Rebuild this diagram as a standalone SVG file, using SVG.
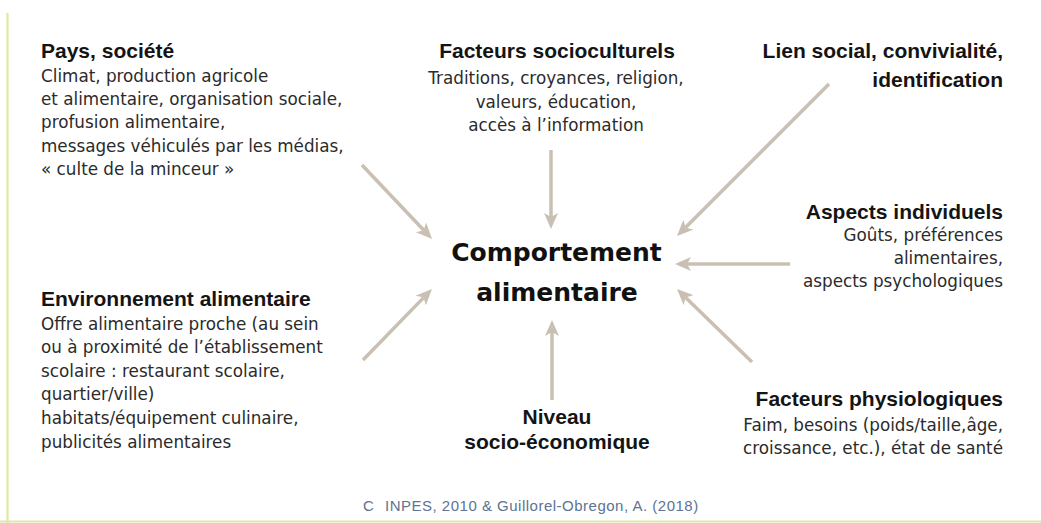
<svg xmlns="http://www.w3.org/2000/svg" width="1041" height="523" viewBox="0 0 1041 523">
  <style>
    .title { font-family: "Liberation Sans", Arial, sans-serif; font-weight: bold; font-size: 21px; fill: #141414; }
    .body { font-family: "DejaVu Sans", Verdana, sans-serif; font-size: 16.8px; fill: #2b2b2b; }
    .core { font-family: "DejaVu Sans", Verdana, sans-serif; font-weight: bold; font-size: 25px; fill: #111111; text-anchor: middle; }
    .credit { font-family: "Liberation Sans", Arial, sans-serif; font-size: 15px; letter-spacing: 0.5px; fill: #5d7391; }
    .link { stroke: #c9c0b3; stroke-width: 3.5; fill: none; marker-end: url(#head); }
    .frame { stroke: #dde9a6; stroke-width: 2.2; fill: none; }
  </style>
  <defs>
    <marker id="head" viewBox="0 0 16 14" refX="4" refY="7" markerWidth="16" markerHeight="14" orient="auto" markerUnits="userSpaceOnUse">
      <path d="M0,0 L16,7 L0,14 L4,7 z" fill="#c9c0b3"/>
    </marker>
  </defs>

  <rect width="1041" height="523" fill="#ffffff"/>

  <!-- page frame: left rule and bottom rule -->
  <g id="frame">
    <line class="frame" x1="7.5" y1="13" x2="7.5" y2="523"/>
    <line class="frame" x1="0" y1="521.5" x2="1041" y2="521.5"/>
  </g>

  <!-- connectors pointing at the central behaviour -->
  <g id="connectors">
    <line class="link" x1="362" y1="165" x2="423.8" y2="230.3"/>
    <line class="link" x1="551" y1="150" x2="551" y2="217"/>
    <line class="link" x1="829" y1="84" x2="685.5" y2="227.5"/>
    <line class="link" x1="790" y1="264" x2="687" y2="264"/>
    <line class="link" x1="752" y1="362" x2="685.6" y2="297.4"/>
    <line class="link" x1="552" y1="400" x2="552" y2="332"/>
    <line class="link" x1="363" y1="360" x2="423.6" y2="297.6"/>
  </g>

  <g id="pays-societe">
    <text class="title" x="41" y="58">Pays, société</text>
    <text class="body" x="41" y="82">Climat, production agricole</text>
    <text class="body" x="41" y="105">et alimentaire, organisation sociale,</text>
    <text class="body" x="41" y="128">profusion alimentaire,</text>
    <text class="body" x="41" y="152">messages véhiculés par les médias,</text>
    <text class="body" x="41" y="175">« culte de la minceur »</text>
  </g>

  <g id="facteurs-socioculturels" text-anchor="middle">
    <text class="title" x="557" y="58">Facteurs socioculturels</text>
    <text class="body" x="556" y="84">Traditions, croyances, religion,</text>
    <text class="body" x="556" y="108">valeurs, éducation,</text>
    <text class="body" x="556" y="131">accès à l’information</text>
  </g>

  <g id="lien-social" text-anchor="end">
    <text class="title" x="1003" y="58">Lien social, convivialité,</text>
    <text class="title" x="1003" y="87">identification</text>
  </g>

  <g id="aspects-individuels" text-anchor="end">
    <text class="title" x="1003" y="219">Aspects individuels</text>
    <text class="body" x="1003" y="241">Goûts, préférences</text>
    <text class="body" x="1003" y="264">alimentaires,</text>
    <text class="body" x="1003" y="287">aspects psychologiques</text>
  </g>

  <g id="facteurs-physiologiques" text-anchor="end">
    <text class="title" x="1003" y="406">Facteurs physiologiques</text>
    <text class="body" x="1003" y="431">Faim, besoins (poids/taille,âge,</text>
    <text class="body" x="1003" y="454">croissance, etc.), état de santé</text>
  </g>

  <g id="niveau-socio-economique" text-anchor="middle">
    <text class="title" x="557" y="424">Niveau</text>
    <text class="title" x="557" y="449">socio-économique</text>
  </g>

  <g id="environnement-alimentaire">
    <text class="title" x="41" y="306">Environnement alimentaire</text>
    <text class="body" x="41" y="330">Offre alimentaire proche (au sein</text>
    <text class="body" x="41" y="353">ou à proximité de l’établissement</text>
    <text class="body" x="41" y="377">scolaire : restaurant scolaire,</text>
    <text class="body" x="41" y="400">quartier/ville)</text>
    <text class="body" x="41" y="424">habitats/équipement culinaire,</text>
    <text class="body" x="41" y="448">publicités alimentaires</text>
  </g>

  <g id="comportement-alimentaire">
    <text class="core" x="556.5" y="261">Comportement</text>
    <text class="core" x="557" y="301">alimentaire</text>
  </g>

  <g id="credit">
    <text class="credit" x="363" y="511">C</text>
    <text class="credit" x="385" y="511">INPES, 2010 &amp; Guillorel-Obregon, A. (2018)</text>
  </g>
</svg>
